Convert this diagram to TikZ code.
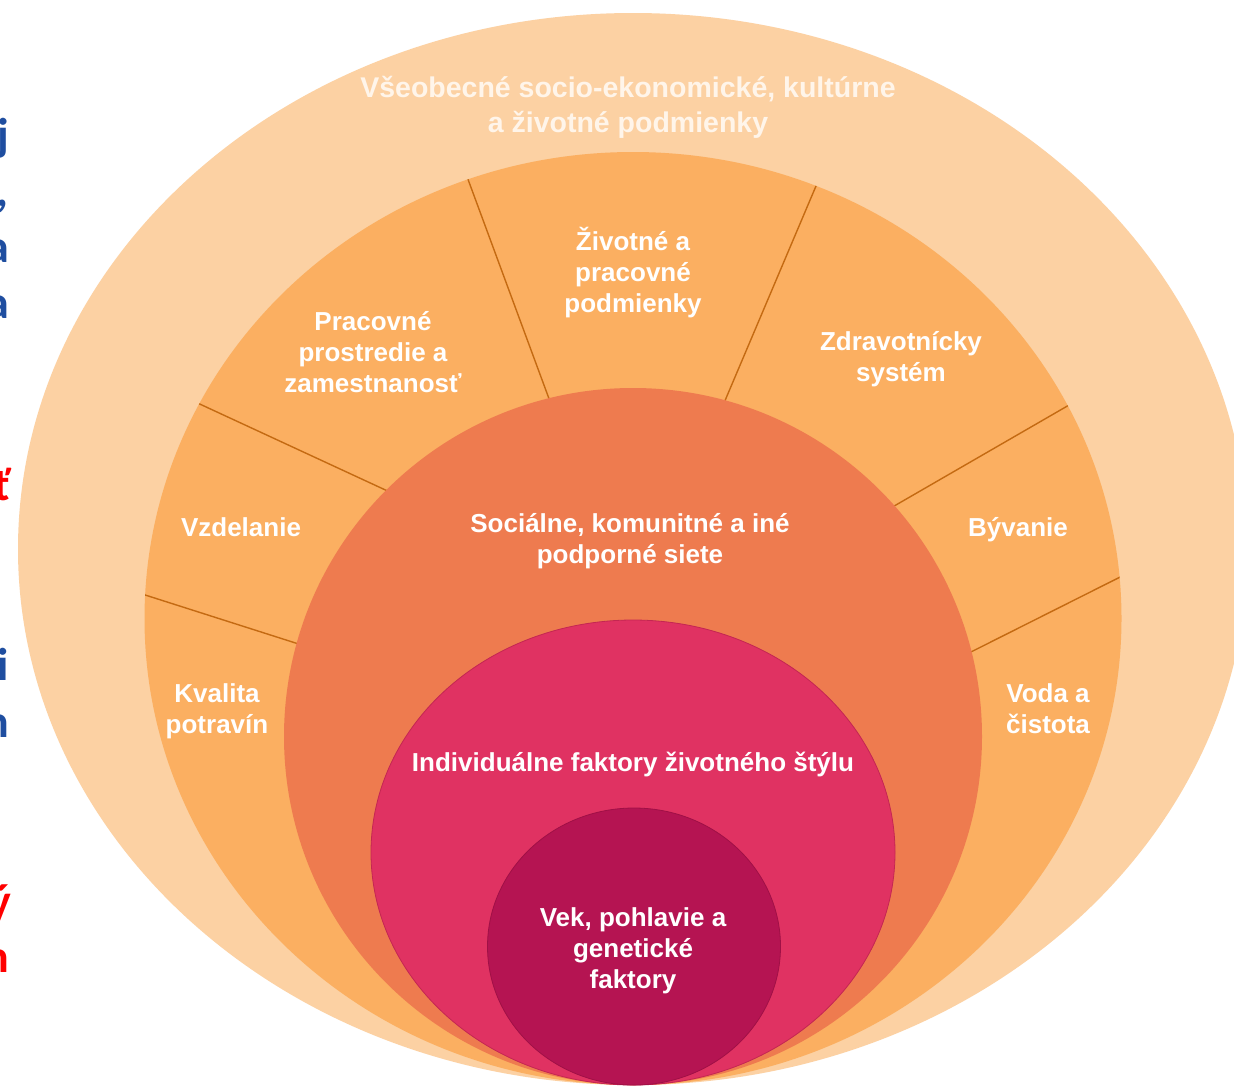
\documentclass[tikz,border=0pt]{standalone}
\usepackage{fontspec}
\setmainfont{Liberation Sans}
\newfontfamily\fragfont{Carlito}
\definecolor{cA}{RGB}{252,209,163}
\definecolor{cB}{RGB}{251,175,97}
\definecolor{cC}{RGB}{238,123,79}
\definecolor{cD}{RGB}{224,50,98}
\definecolor{cE}{RGB}{181,20,82}
\definecolor{cDline}{RGB}{196,38,82}
\definecolor{cEline}{RGB}{160,16,70}
\definecolor{divline}{RGB}{196,106,18}
\definecolor{titlecol}{RGB}{255,245,234}
\definecolor{blueT}{RGB}{31,78,160}
\definecolor{redT}{RGB}{255,0,0}
\begin{document}
\begin{tikzpicture}[x=1pt,y=-1pt,
  lbl/.style={text=white,font=\fontsize{26}{31}\selectfont\bfseries,align=center,inner sep=0pt},
  ttl/.style={text=titlecol,font=\fontsize{28.5}{35}\selectfont\bfseries,align=center,inner sep=0pt},
  frag/.style={font=\fragfont\fontsize{46}{55}\selectfont\bfseries,inner sep=0pt,anchor=base east},
  divider/.style={draw=divline,line width=1.4pt}]
\useasboundingbox (0,0) rectangle (1234,1085);
\clip (0,0) rectangle (1234,1085);
\fill[white] (0,0) rectangle (1234,1085);

% outer rings
\fill[cA] (633,549) ellipse [x radius=615pt, y radius=536pt];
\fill[cB] (633,618.5) ellipse [x radius=488.5pt, y radius=466.5pt];

% dividers in the second ring
\coordinate (d1a) at (452,136); \coordinate (d1b) at (565,442);
\coordinate (d2a) at (830,153); \coordinate (d2b) at (710,436);
\coordinate (d3a) at (163,387); \coordinate (d3b) at (420,506);
\coordinate (d4a) at (117,586); \coordinate (d4b) at (330,654);
\coordinate (d5a) at (1102,386); \coordinate (d5b) at (863,524);
\coordinate (d6a) at (1150,562); \coordinate (d6b) at (945,665);
\begin{scope}
\clip (633,618.5) ellipse [x radius=488.5pt, y radius=466.5pt];
\draw[divider] (d1a) -- (d1b);
\draw[divider] (d2a) -- (d2b);
\draw[divider] (d3a) -- (d3b);
\draw[divider] (d4a) -- (d4b);
\draw[divider] (d5a) -- (d5b);
\draw[divider] (d6a) -- (d6b);
\end{scope}

% inner rings
\fill[cC] (633,736.5) ellipse [x radius=349pt, y radius=348.5pt];
\filldraw[fill=cD,draw=cDline,line width=0.8pt] (633,852.5) ellipse [x radius=262pt, y radius=232.5pt];
\filldraw[fill=cE,draw=cEline,line width=0.8pt] (634,946.5) ellipse [x radius=146.5pt, y radius=138.5pt];

% labels
\node[ttl] (title) at (628,107.5) {\strut Všeobecné socio-ekonomické, kultúrne\\\strut a životné podmienky};
\node[lbl] (zivot) at (633,274) {\strut Životné a\\\strut pracovné\\\strut podmienky};
\node[lbl] (prac) at (373,355) {\strut Pracovné\\\strut prostredie a\\\strut zamestnanosť};
\node[lbl] (zdrav) at (901,359.5) {\strut Zdravotnícky\\\strut systém};
\node[lbl] (vzdel) at (241,530) {\strut Vzdelanie};
\node[lbl] (byv) at (1018,530) {\strut Bývanie};
\node[lbl] (kval) at (217,711.5) {\strut Kvalita\\\strut potravín};
\node[lbl] (voda) at (1048,711.5) {\strut Voda a\\\strut čistota};
\node[lbl] (soc) at (630,541.5) {\strut Sociálne, komunitné a iné\\\strut podporné siete};
\node[lbl] (indiv) at (633,765) {\strut Individuálne faktory životného štýlu};
\node[lbl] (vek) at (633,951) {\strut Vek, pohlavie a\\\strut genetické\\\strut faktory};

% clipped letters at the left edge
\node[frag,text=blueT] (f1) at (9,150) {j};
\node[frag,text=blueT] (f2) at (9,206) {,};
\node[frag,text=blueT] (f3) at (9,262) {a};
\node[frag,text=blueT] (f4) at (9,318) {a};
\node[frag,text=redT] (f5) at (11,500) {ť};
\node[frag,text=blueT] (f6) at (9,680) {i};
\node[frag,text=blueT] (f7) at (9,737) {n};
\node[frag,text=redT] (f8) at (11,916) {ý};
\node[frag,text=redT] (f9) at (9,972) {n};
\end{tikzpicture}
\end{document}
